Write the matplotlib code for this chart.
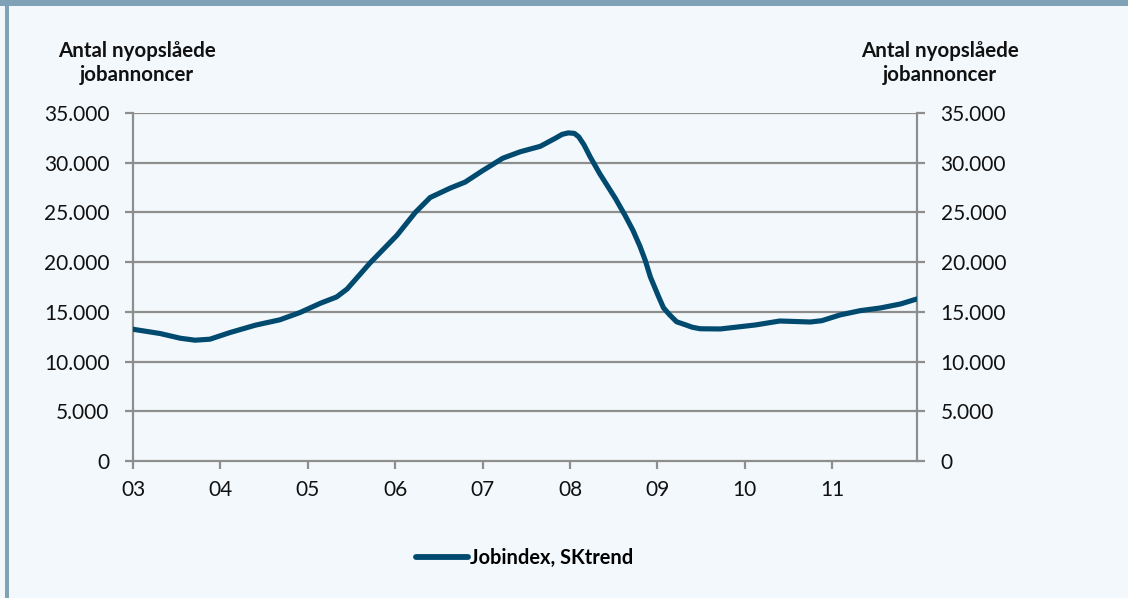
import matplotlib
matplotlib.use("Agg")
import matplotlib.pyplot as plt
from matplotlib.ticker import FuncFormatter, FixedLocator
from matplotlib.lines import Line2D
import matplotlib.patches as mpatches

# ---- data ----
years = [2003.00, 2003.31, 2003.54, 2003.71, 2003.88, 2004.11, 2004.40, 2004.68,
         2004.91, 2005.14, 2005.33, 2005.45, 2005.71, 2006.02, 2006.23, 2006.40,
         2006.63, 2006.80, 2007.00, 2007.23, 2007.43, 2007.66, 2007.83, 2007.91,
         2007.98, 2008.05, 2008.10, 2008.16, 2008.23, 2008.34, 2008.52, 2008.63,
         2008.72, 2008.80, 2008.86, 2008.92, 2009.01, 2009.07, 2009.14, 2009.22,
         2009.32, 2009.40, 2009.49, 2009.72, 2010.12, 2010.40, 2010.75, 2010.88,
         2011.09, 2011.32, 2011.55, 2011.78, 2011.97]
values = [13250, 12820, 12350, 12150, 12250, 12920, 13660, 14200,
          14930, 15850, 16500, 17300, 19900, 22700, 25000, 26500,
          27450, 28050, 29200, 30450, 31100, 31650, 32450, 32850,
          33000, 32950, 32600, 31800, 30600, 28900, 26400, 24700,
          23200, 21600, 20200, 18500, 16600, 15400, 14700, 14000,
          13700, 13450, 13300, 13280, 13680, 14080, 13980, 14110,
          14690, 15120, 15390, 15790, 16300]
tick_years = [2003, 2004, 2005, 2006, 2007, 2008, 2009, 2010, 2011]
tick_labels = ["03", "04", "05", "06", "07", "08", "09", "10", "11"]
y_ticks = [0, 5000, 10000, 15000, 20000, 25000, 30000, 35000]
series_name = "Jobindex, SKtrend"
axis_title = "Antal nyopslåede\njobannoncer"

# ---- style ----
BG = "#F3F8FC"
BAND = "#7FA2B7"
LINE = "#004A70"
GRID = "#8E8E8E"
TXT = "#111111"
plt.rcParams["font.family"] = ["Lato", "DejaVu Sans"]

W, H = 1128, 598
fig = plt.figure(figsize=(W / 100, H / 100), dpi=100, facecolor=BG)

# frame bands
fig.add_artist(mpatches.Rectangle((0, 1 - 6 / H), 1, 6 / H, transform=fig.transFigure,
                                  facecolor=BAND, edgecolor="none"))
fig.add_artist(mpatches.Rectangle((5 / W, 0), 4 / W, 1, transform=fig.transFigure,
                                  facecolor=BAND, edgecolor="none"))

ax = fig.add_axes([133 / W, 1 - 461 / H, (917 - 133) / W, (461 - 113) / H])
ax.set_facecolor(BG)
ax.plot(years, values, color=LINE, lw=3.7, solid_capstyle="round",
        solid_joinstyle="round", zorder=3)

ax.set_xlim(2003, 2011.97)
ax.set_ylim(0, 35000)

fmt = FuncFormatter(lambda v, p: f"{int(v):,}".replace(",", "."))
ax.yaxis.set_major_locator(FixedLocator(y_ticks))
ax.yaxis.set_major_formatter(fmt)
ax.set_xticks(tick_years)
ax.set_xticklabels(tick_labels)

for v in y_ticks[1:]:
    ax.axhline(v, color=GRID, lw=1.6, zorder=1)

ax.spines["top"].set_visible(False)
for s in ["left", "right", "bottom"]:
    ax.spines[s].set_color(GRID)
    ax.spines[s].set_linewidth(1.6)

ax.tick_params(axis="y", which="both", left=True, right=True, labelleft=True,
               labelright=True, length=6, width=1.6, color=GRID,
               labelsize=15, labelcolor=TXT, pad=11)
ax.tick_params(axis="x", length=6, width=1.6, color=GRID, labelsize=15,
               labelcolor=TXT, pad=8)

# axis titles
fig.text(137 / W, 1 - 63 / H, axis_title, ha="center", va="center",
         fontsize=14.8, fontweight="bold", color=TXT, linespacing=1.2)
fig.text(940 / W, 1 - 63 / H, axis_title, ha="center", va="center",
         fontsize=14.8, fontweight="bold", color=TXT, linespacing=1.2)

# legend
handle = Line2D([], [], color=LINE, lw=4.2, solid_capstyle="round")
leg = fig.legend([handle], [series_name], loc="center",
                 bbox_to_anchor=(525 / W, 1 - 558 / H), frameon=False,
                 handlelength=2.6, handletextpad=0.1,
                 prop={"family": ["Lato", "DejaVu Sans"], "weight": "bold", "size": 14.4})

fig.savefig("out.png", dpi=100, facecolor=BG)
